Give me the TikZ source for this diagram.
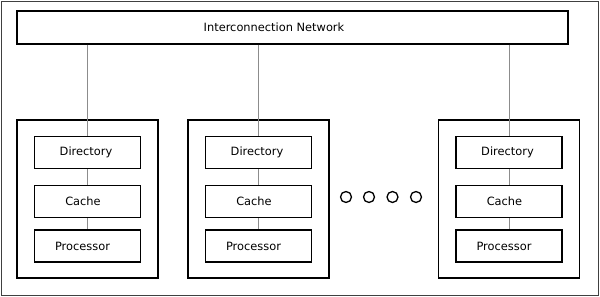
\documentclass[tikz,border=0pt]{standalone}
\usepackage{fontspec}
\setmainfont{DejaVu Sans}
\usepackage{tikz}

\begin{document}
\begin{tikzpicture}[
				x=1pt, y=-1pt,
				every node/.style={
					font=\fontsize{11.4}{13}\selectfont,
					inner sep=0pt
				},
				network/.style={
					rectangle,
					draw=black,
					line width=1.3pt,
					fill=white,
					minimum width=551pt,
					minimum height=33pt
				},
				module/.style={
					rectangle,
					draw=black,
					line width=1.8pt,
					minimum width=141pt,
					minimum height=158pt
				},
				unit/.style={
					rectangle,
					draw=black,
					line width=1.3pt,
					fill=white,
					minimum width=106pt,
					minimum height=32pt
				},
				dot/.style={
					circle,
					draw=black,
					line width=1.3pt,
					minimum size=11pt
				},
				edge/.style={
					draw=black!45,
					line width=0.8pt
				}
			]

				\useasboundingbox (0,0) rectangle (600,297);
				\draw[black!75, line width=0.8pt] (1,1) rectangle (598.5,295.5);

				\node[network] (net) at (292.5,27.5) {Interconnection Network\kern37pt};

				\node[module] (M1) at (87.5,199) {};
				\node[module] (M2) at (258.5,199) {};
				\node[module] (M3) at (509,199) {};

				\node[unit] (D1) at (87.5,152.5) {Directory\kern3pt};
				\node[unit] (C1) at (87.5,201.5) {Cache\kern9pt};
				\node[unit] (P1) at (87.5,246) {Processor\kern10pt};

				\node[unit] (D2) at (258.5,152.5) {Directory\kern3pt};
				\node[unit] (C2) at (258.5,201.5) {Cache\kern9pt};
				\node[unit] (P2) at (258.5,246) {Processor\kern10pt};

				\node[unit] (D3) at (509,152.5) {Directory\kern3pt};
				\node[unit] (C3) at (509,201.5) {Cache\kern9pt};
				\node[unit] (P3) at (509,246) {Processor\kern10pt};

				\node[dot] (o1) at (346,197) {};
				\node[dot] (o2) at (369,197) {};
				\node[dot] (o3) at (392.5,197) {};
				\node[dot] (o4) at (416,197) {};

				\draw[edge]
					(D1.north |- net.south) -- (D1.north);
				\draw[edge]
					(D2.north |- net.south) -- (D2.north);
				\draw[edge]
					(D3.north |- net.south) -- (D3.north);

				\draw[edge] (D1) -- (C1);
				\draw[edge] (C1) -- (P1);
				\draw[edge] (D2) -- (C2);
				\draw[edge] (C2) -- (P2);
				\draw[edge] (D3) -- (C3);
				\draw[edge] (C3) -- (P3);

			\end{tikzpicture}
\end{document}
